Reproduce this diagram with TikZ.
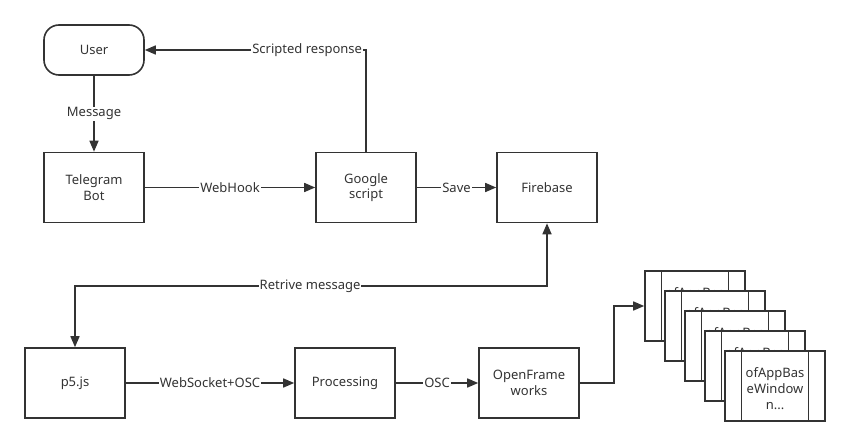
\documentclass[tikz,border=0pt]{standalone}
\usepackage{fontspec}
\setmainfont{Noto Sans}
\usetikzlibrary{arrows.meta}
\definecolor{ink}{HTML}{333333}
\begin{document}
\begin{tikzpicture}[x=1pt,y=-1pt,
  txt/.style={text=ink, font=\fontsize{13}{15.5}\selectfont},
  box/.style={txt, draw=ink, line width=1.6pt, minimum width=100pt, minimum height=70pt, inner sep=0pt, align=center},
  userbox/.style={box, minimum height=50pt, rounded corners=15pt},
  win/.style={box, fill=white},
  wintext/.style={txt, align=center, inner sep=0pt, font=\fontsize{13}{16}\selectfont},
  innerline/.style={draw=ink, line width=1pt},
  conn/.style={draw=ink, line width=1.6pt, -{Triangle[length=11pt,width=9pt]}},
  conn2/.style={draw=ink, line width=1.6pt, {Triangle[length=11pt,width=9pt]}-{Triangle[length=11pt,width=9pt]}},
  lbl/.style={txt, fill=white, inner sep=1pt}
]
\useasboundingbox (0,0) rectangle (850,446);

\node[userbox] (user) at (94,50) {User};
\node[box] (tg) at (94,187.5) {Telegram\\Bot};
\node[box] (gs) at (366,187.5) {Google\\script};
\node[box] (fb) at (547,187.5) {Firebase};
\node[box] (p5) at (75,383) {p5.js};
\node[box] (proc) at (345,383) {Processing};
\node[box] (of) at (529,383) {OpenFrame\\works};

\foreach \i/\cx/\cy in {1/695/306,2/715/326,3/735/346,4/755/366,5/775/386}{
  \node[win] (w\i) at (\cx,\cy) {};
  \node[wintext] (t\i) at ([yshift=-2.5pt]w\i.center) {ofAppBas\\eWindow\\n...};
  \draw[innerline] ([xshift=17pt]w\i.north west) -- ([xshift=17pt]w\i.south west);
  \draw[innerline] ([xshift=-17pt]w\i.north east) -- ([xshift=-17pt]w\i.south east);
}

\draw[conn] (user.south) -- node[lbl]{Message} (tg.north);
\draw[conn] (tg.east) -- node[lbl]{WebHook} (gs.west);
\draw[conn] (gs.east) -- node[lbl]{Save} (fb.west);
\draw[conn] (gs.north) -- (gs.north |- user.east) -- node[lbl,pos=0.266]{Scripted response} (user.east);
\draw[conn2] (p5.north) -- ++(0,-61) -| node[lbl,pos=0.249]{Retrive message} (fb.south);
\draw[conn] (p5.east) -- node[lbl]{WebSocket+OSC} (proc.west);
\draw[conn] (proc.east) -- node[lbl]{OSC} (of.west);
\draw[conn] (of.east) -- ++(34,0) |- (w1.west);
\end{tikzpicture}
\end{document}
